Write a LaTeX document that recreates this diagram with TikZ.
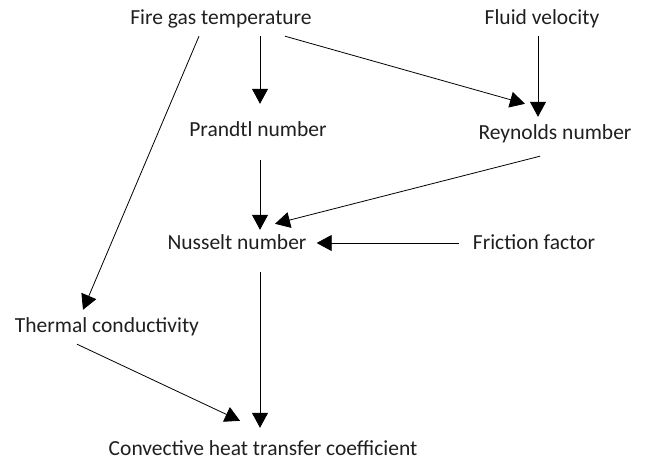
\documentclass[tikz,border=0pt]{standalone}
\usepackage{fontspec}
\setmainfont{Carlito}
\usetikzlibrary{arrows.meta}
\begin{document}
\begin{tikzpicture}[x=1pt,y=-1pt,
  lbl/.style={inner xsep=0pt, inner ysep=8pt, text height=15pt, text depth=5pt,
    font=\fontsize{21.5}{24}\selectfont, text=black!88},
  arr/.style={-{Triangle[length=15pt,width=16pt]}, line width=0.8pt, black}]
\useasboundingbox (0,0) rectangle (651,462);
\node[lbl] (fire) at (221,20) {Fire gas temperature};
\node[lbl] (fluid) at (542,20) {Fluid velocity};
\node[lbl] (prandtl) at (258,132) {Prandtl number};
\node[lbl] (reynolds) at (555,135) {Reynolds number};
\node[lbl] (nusselt) at (237,245) {Nusselt number};
\node[lbl] (friction) at (534,245) {Friction factor};
\node[lbl] (thermal) at (107,328) {Thermal conductivity};
\node[lbl] (conv) at (263,450) {Convective heat transfer coefficient};

\draw[arr] ([xshift=39pt,yshift=2pt]fire.south) -- ([xshift=2pt,yshift=10pt]prandtl.north);
\draw[arr] ([xshift=64pt,yshift=2pt]fire.south) -- ([xshift=-30pt,yshift=13pt]reynolds.north);
\draw[arr] ([xshift=-4pt,yshift=2pt]fluid.south) -- ([xshift=-17pt]reynolds.north);
\draw[arr] ([xshift=-22pt,yshift=2pt]fire.south) -- ([xshift=-24pt]thermal.north);
\draw[arr] ([xshift=2pt,yshift=-10pt]prandtl.south) -- ([xshift=23pt,yshift=-3pt]nusselt.north);
\draw[arr] ([xshift=-15pt,yshift=-3pt]reynolds.south) -- ([xshift=38pt,yshift=3pt]nusselt.north);
\draw[arr] ([xshift=-14pt,yshift=2pt]friction.west) -- ([xshift=10pt,yshift=2pt]nusselt.east);
\draw[arr] ([xshift=23pt,yshift=-9pt]nusselt.south) -- ([xshift=-3pt,yshift=4pt]conv.north);
\draw[arr] ([xshift=-30pt,yshift=2pt]thermal.south) -- ([xshift=-23pt,yshift=11pt]conv.north);
\end{tikzpicture}
\end{document}
